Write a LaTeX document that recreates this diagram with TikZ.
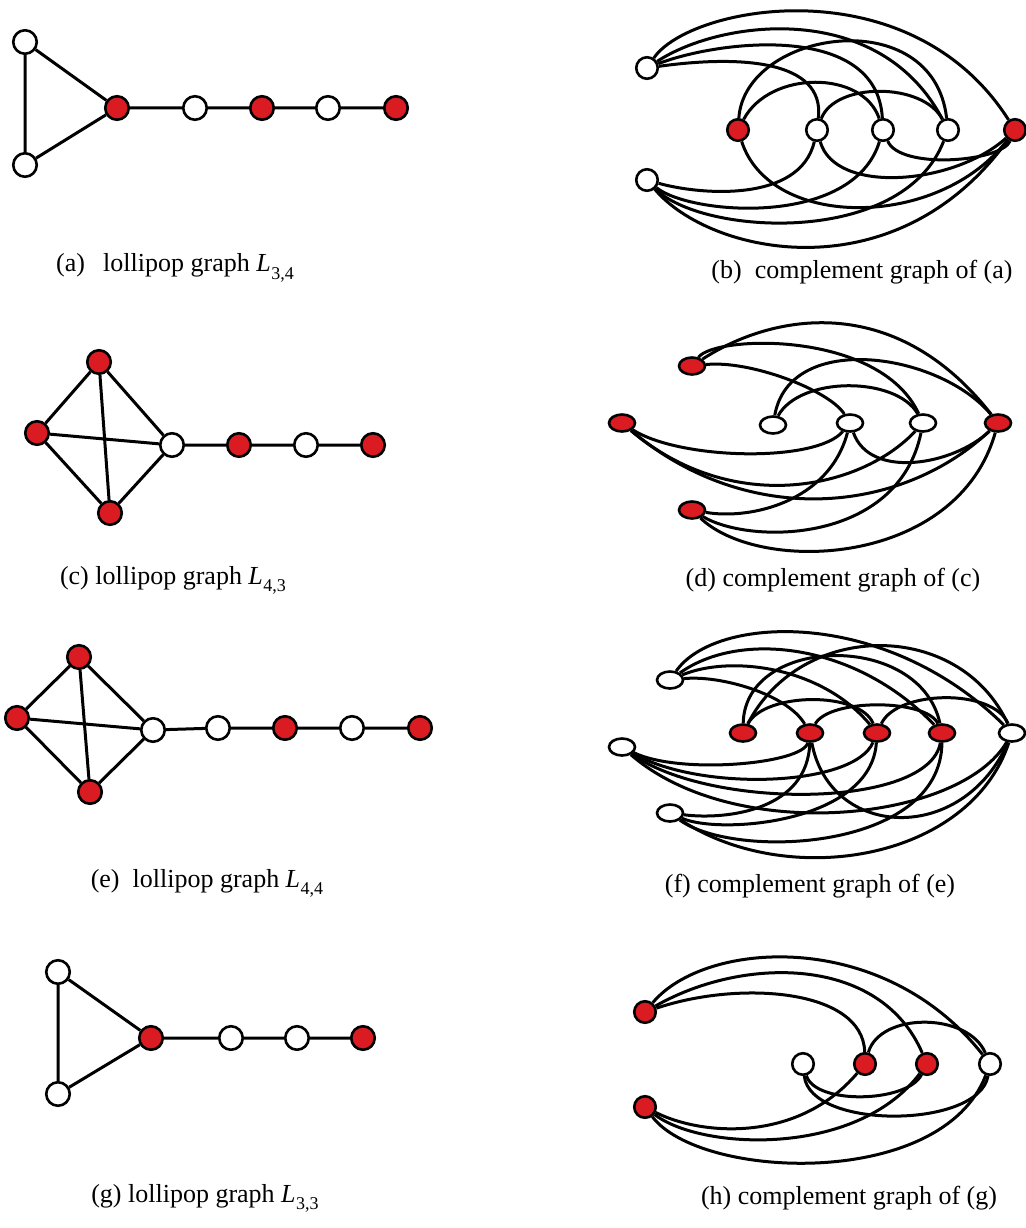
\documentclass[tikz,border=0pt]{standalone}
\usepackage{fontspec}
\setmainfont{Liberation Serif}
\usetikzlibrary{shapes.geometric}
\definecolor{nodered}{RGB}{218,28,34}
\newcommand\mylsub[1]{\textit{L}\kern0.5pt\raisebox{-0.28em}{\fontsize{18}{20}\selectfont #1}}
\begin{document}
\begin{tikzpicture}[x=1pt,y=-1pt,
 wn/.style={circle,draw=black,line width=2.6pt,fill=white,minimum size=23.5pt,inner sep=0pt},
 rn/.style={wn,fill=nodered},
 cwn/.style={circle,draw=black,line width=2.6pt,fill=white,minimum size=21.5pt,inner sep=0pt},
 crn/.style={cwn,fill=nodered},
 we/.style={ellipse,draw=black,line width=2.6pt,fill=white,minimum width=26pt,minimum height=17pt,inner sep=0pt},
 re/.style={we,fill=nodered},
 edge/.style={line width=3pt},
 captxt/.style={font=\fontsize{26}{31}\selectfont,inner sep=0pt}]
\useasboundingbox (0,0) rectangle (1025,1228);

% ---------- (a) ----------
\node[wn] (a1) at (25,42) {};
\node[wn] (a2) at (25,165) {};
\node[rn] (a3) at (117,108) {};
\node[wn] (a4) at (195,108) {};
\node[rn] (a5) at (262,108) {};
\node[wn] (a6) at (328,108) {};
\node[rn] (a7) at (396,108) {};
\draw[edge] (a1)--(a2) (a1)--(a3) (a2)--(a3) (a3)--(a4) (a4)--(a5) (a5)--(a6) (a6)--(a7);

% ---------- (b) ----------
\node[cwn] (bTL) at (647,68) {};
\node[cwn] (bBL) at (647,180) {};
\node[crn] (bR1) at (738,130) {};
\node[cwn] (bW1) at (817,130) {};
\node[cwn] (bW2) at (883,130) {};
\node[cwn] (bW3) at (948,130) {};
\node[crn] (bR2) at (1015,130) {};
\draw[edge] (bTL) .. controls (690,5) and (910,-35) .. (bR2);
\draw[edge] (bTL) .. controls (722,19) and (880,0) .. (bW3);
\draw[edge] (bTL) .. controls (720,40) and (877,22) .. (bW2);
\draw[edge] (bTL) .. controls (740,55) and (825,60) .. (bW1);
\draw[edge] (bBL) .. controls (700,195) and (800,203) .. (bW1);
\draw[edge] (bBL) .. controls (690,215) and (853,228) .. (bW2);
\draw[edge] (bBL) .. controls (700,235) and (902,248) .. (bW3);
\draw[edge] (bBL) .. controls (710,255) and (896,295) .. (bR2);
\draw[edge] (bR1) .. controls (770,70) and (863,70) .. (bW2);
\draw[edge] (bR1) .. controls (745,30) and (933,1) .. (bW3);
\draw[edge] (bR1) .. controls (770,230) and (939,230) .. (bR2);
\draw[edge] (bW1) .. controls (835,82) and (923,82) .. (bW3);
\draw[edge] (bW1) .. controls (835,195) and (954,185) .. (bR2);
\draw[edge] (bW2) .. controls (900,170) and (1001,162) .. (bR2);

% ---------- (c) ----------
\node[rn] (c1) at (99,362) {};
\node[rn] (c2) at (37,433) {};
\node[rn] (c3) at (110,513) {};
\node[wn] (c4) at (172,445) {};
\node[rn] (c5) at (239,445) {};
\node[wn] (c6) at (306,445) {};
\node[rn] (c7) at (373,445) {};
\draw[edge] (c1)--(c2) (c1)--(c3) (c1)--(c4) (c2)--(c3) (c2)--(c4) (c3)--(c4)
 (c4)--(c5) (c5)--(c6) (c6)--(c7);

% ---------- (d) ----------
\node[re] (dTL) at (692,366) {};
\node[re] (dL) at (622,423) {};
\node[re] (dBL) at (692,510) {};
\node[we] (dW1) at (773,425) {};
\node[we] (dW2) at (850,423) {};
\node[we] (dW3) at (923,423) {};
\node[re] (dR) at (998,423) {};
\draw[edge] (dTL) .. controls (770,315) and (893,289) .. (dR);
\draw[edge] (dTL) .. controls (715,335) and (880,330) .. (dW3);
\draw[edge] (dTL) .. controls (750,360) and (829,390) .. (dW2);
\draw[edge] (dL) .. controls (680,460) and (816,463) .. (dW2);
\draw[edge] (dL) .. controls (732,516) and (860,490) .. (dW3);
\draw[edge] (dL) .. controls (747,528) and (900,515) .. (dR);
\draw[edge] (dBL) .. controls (750,520) and (829,502) .. (dW2);
\draw[edge] (dBL) .. controls (750,545) and (898,544) .. (dW3);
\draw[edge] (dBL) .. controls (760,575) and (957,567) .. (dR);
\draw[edge] (dW1) .. controls (800,376) and (896,376) .. (dW3);
\draw[edge] (dW1) .. controls (790,330) and (940,353) .. (dR);
\draw[edge] (dW2) .. controls (870,480) and (954,465) .. (dR);

% ---------- (e) ----------
\node[rn] (e1) at (79,657) {};
\node[rn] (e2) at (17,718) {};
\node[rn] (e3) at (90,792) {};
\node[wn] (e4) at (153,730) {};
\node[wn] (e5) at (218,728) {};
\node[rn] (e6) at (285,728) {};
\node[wn] (e7) at (352,728) {};
\node[rn] (e8) at (420,728) {};
\draw[edge] (e1)--(e2) (e1)--(e3) (e1)--(e4) (e2)--(e3) (e2)--(e4) (e3)--(e4)
 (e4)--(e5) (e5)--(e6) (e6)--(e7) (e7)--(e8);

% ---------- (f) ----------
\node[we] (fTL) at (670,680) {};
\node[we] (fL) at (622,747) {};
\node[we] (fBL) at (670,813) {};
\node[re] (fR1) at (743,733) {};
\node[re] (fR2) at (810,733) {};
\node[re] (fR3) at (877,733) {};
\node[re] (fR4) at (942,733) {};
\node[we] (fR) at (1012,733) {};
\draw[edge] (fTL) .. controls (715,615) and (884,607) .. (fR);
\draw[edge] (fTL) .. controls (740,630) and (856,643) .. (fR4);
\draw[edge] (fTL) .. controls (730,655) and (821,666) .. (fR3);
\draw[edge] (fTL) .. controls (720,675) and (787,694) .. (fR2);
\draw[edge] (fL) .. controls (680,775) and (803,764) .. (fR2);
\draw[edge] (fL) .. controls (700,792) and (854,787) .. (fR3);
\draw[edge] (fL) .. controls (710,810) and (929,809) .. (fR4);
\draw[edge] (fL) .. controls (735,845) and (960,822) .. (fR);
\draw[edge] (fBL) .. controls (725,820) and (808,811) .. (fR2);
\draw[edge] (fBL) .. controls (720,835) and (871,823) .. (fR3);
\draw[edge] (fBL) .. controls (735,860) and (941,851) .. (fR4);
\draw[edge] (fBL) .. controls (789,891) and (970,860) .. (fR);
\draw[edge] (fR1) .. controls (765,692) and (860,691) .. (fR3);
\draw[edge] (fR1) .. controls (745,635) and (920,631) .. (fR4);
\draw[edge] (fR1) .. controls (802,619) and (960,620) .. (fR);
\draw[edge] (fR2) .. controls (830,698) and (927,699) .. (fR4);
\draw[edge] (fR3) .. controls (897,690) and (993,688) .. (fR);
\draw[edge] (fR2) .. controls (830,840) and (963,845) .. (fR);

% ---------- (g) ----------
\node[wn] (g1) at (58,972) {};
\node[wn] (g2) at (58,1094) {};
\node[rn] (g3) at (151,1038) {};
\node[wn] (g4) at (231,1038) {};
\node[wn] (g5) at (297,1038) {};
\node[rn] (g6) at (363,1038) {};
\draw[edge] (g1)--(g2) (g1)--(g3) (g2)--(g3) (g3)--(g4) (g4)--(g5) (g5)--(g6);

% ---------- (h) ----------
\node[crn] (hTL) at (645,1012) {};
\node[crn] (hBL) at (645,1107) {};
\node[cwn] (hW) at (803,1064) {};
\node[crn] (hR1) at (865,1064) {};
\node[crn] (hR2) at (927,1064) {};
\node[cwn] (hR) at (990,1064) {};
\draw[edge] (hTL) .. controls (705,940) and (883,928) .. (hR);
\draw[edge] (hTL) .. controls (743,956) and (880,955) .. (hR2);
\draw[edge] (hTL) .. controls (740,980) and (863,989) .. (hR1);
\draw[edge] (hR1) .. controls (880,1012) and (968,1012) .. (hR);
\draw[edge] (hW) .. controls (815,1105) and (907,1103) .. (hR2);
\draw[edge] (hW) .. controls (810,1130) and (979,1129) .. (hR);
\draw[edge] (hBL) .. controls (700,1135) and (797,1144) .. (hR1);
\draw[edge] (hBL) .. controls (700,1150) and (856,1158) .. (hR2);
\draw[edge] (hBL) .. controls (700,1180) and (942,1190) .. (hR);

% ---------- captions ----------
\node[captxt] (la) at (175,268) {(a)\hspace{0.7em}lollipop graph \mylsub{3,4}};
\node[captxt] (lb) at (862,272) {(b)\hspace{0.5em}complement graph of (a)};
\node[captxt] (lc) at (173,580) {(c) lollipop graph \mylsub{4,3}};
\node[captxt] (ld) at (833,580) {(d) complement graph of (c)};
\node[captxt] (le) at (207,883) {(e)\hspace{0.5em}lollipop graph \mylsub{4,4}};
\node[captxt] (lf) at (810,886) {(f) complement graph of (e)};
\node[captxt] (lg) at (205,1198) {(g) lollipop graph \mylsub{3,3}};
\node[captxt] (lh) at (849,1198) {(h) complement graph of (g)};
\end{tikzpicture}
\end{document}
